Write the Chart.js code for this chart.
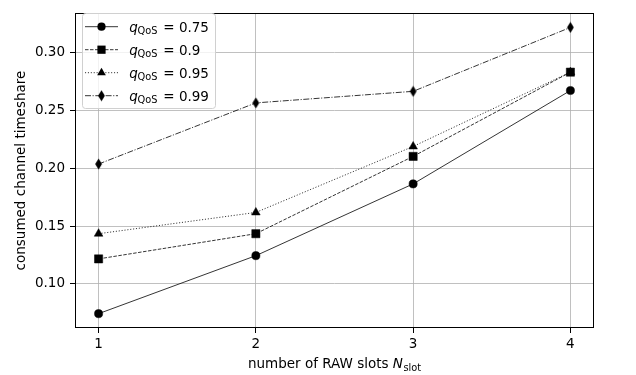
<!DOCTYPE html>
<html><head><meta charset="utf-8">
<script src="https://cdn.jsdelivr.net/npm/chart.js@4"></script>
<style>html,body{margin:0;padding:0;background:#fff}</style>
</head><body>
<canvas id="c" width="636" height="375"></canvas>
<script>
const slots = [1, 2, 3, 4];
const q075 = [0.0742, 0.1244, 0.1865, 0.2673];
const q090 = [0.1216, 0.1434, 0.2103, 0.2832];
const q095 = [0.1434, 0.1618, 0.2189, 0.2832];
const q099 = [0.2037, 0.2566, 0.2666, 0.3219];
const seriesLabels = ['0.75', '0.9', '0.95', '0.99'];
const xTicks = [1, 2, 3, 4];
const yTicks = [0.10, 0.15, 0.20, 0.25, 0.30];
const xTitle = 'number of RAW slots ';
const xTitleVar = 'N';
const xTitleSub = 'slot';
const yTitle = 'consumed channel timeshare';

const FONT = "'DejaVu Sans', sans-serif";

function diamondCanvas() {
  const c = document.createElement('canvas');
  c.width = 9; c.height = 12;
  const g = c.getContext('2d');
  g.fillStyle = '#000';
  g.beginPath();
  g.moveTo(4.5, 0.6); g.lineTo(7.9, 6); g.lineTo(4.5, 11.4); g.lineTo(1.1, 6);
  g.closePath(); g.fill();
  return c;
}
const diamond = diamondCanvas();

const styles = [
  {dash: [], point: 'circle', r: 4.1},
  {dash: [3.5, 1.5], point: 'rect', r: 5.8},
  {dash: [1.1, 1.8], point: 'triangle', r: 5.0},
  {dash: [6, 1.6, 1.1, 1.6], point: diamond, r: 6}
];
const seriesValues = [q075, q090, q095, q099];

const datasets = seriesValues.map((vals, i) => ({
  label: seriesLabels[i],
  data: slots.map((s, j) => ({x: s, y: vals[j]})),
  borderColor: '#000',
  borderWidth: 0.8,
  borderDash: styles[i].dash,
  pointStyle: styles[i].point,
  pointRadius: styles[i].r,
  pointBackgroundColor: '#000',
  pointBorderColor: '#000',
  pointBorderWidth: 0.5,
  tension: 0,
  fill: false
}));

function drawMarker(ctx, st, x, y) {
  ctx.save();
  ctx.fillStyle = '#000';
  ctx.setLineDash([]);
  if (st.point === 'circle') {
    ctx.beginPath(); ctx.arc(x, y, st.r, 0, Math.PI * 2); ctx.fill();
  } else if (st.point === 'rect') {
    const s = st.r * Math.SQRT1_2;
    ctx.fillRect(x - s, y - s, 2 * s, 2 * s);
  } else if (st.point === 'triangle') {
    const r = st.r;
    ctx.beginPath();
    ctx.moveTo(x, y - r);
    ctx.lineTo(x + r * Math.cos(Math.PI / 6), y + r / 2);
    ctx.lineTo(x - r * Math.cos(Math.PI / 6), y + r / 2);
    ctx.closePath(); ctx.fill();
  } else {
    ctx.drawImage(st.point, x - 4.5, y - 6);
  }
  ctx.restore();
}

const decor = {
  id: 'decor',
  afterDatasetsDraw(chart) {
    const ctx = chart.ctx;
    const a = chart.chartArea;
    ctx.save();
    // frame
    ctx.strokeStyle = '#000';
    ctx.lineWidth = 1;
    ctx.setLineDash([]);
    ctx.strokeRect(Math.round(a.left) + 0.5, Math.round(a.top) + 0.5,
                   Math.round(a.right - a.left) - 1, Math.round(a.bottom - a.top) - 1);

    // legend
    const bx = 82.5, by = 13.5, bw = 133, bh = 95, rr = 3;
    ctx.beginPath();
    ctx.moveTo(bx + rr, by);
    ctx.lineTo(bx + bw - rr, by); ctx.quadraticCurveTo(bx + bw, by, bx + bw, by + rr);
    ctx.lineTo(bx + bw, by + bh - rr); ctx.quadraticCurveTo(bx + bw, by + bh, bx + bw - rr, by + bh);
    ctx.lineTo(bx + rr, by + bh); ctx.quadraticCurveTo(bx, by + bh, bx, by + bh - rr);
    ctx.lineTo(bx, by + rr); ctx.quadraticCurveTo(bx, by, bx + rr, by);
    ctx.closePath();
    ctx.fillStyle = 'rgba(255,255,255,0.8)';
    ctx.fill();
    ctx.strokeStyle = '#d0d0d0';
    ctx.stroke();

    seriesLabels.forEach((lab, i) => {
      const y = 26.7 + i * 23;
      const st = styles[i];
      ctx.strokeStyle = '#000';
      ctx.lineWidth = 0.8;
      ctx.setLineDash(st.dash);
      ctx.beginPath(); ctx.moveTo(85, y); ctx.lineTo(118, y); ctx.stroke();
      ctx.setLineDash([]);
      drawMarker(ctx, st, 101.5, y);
      ctx.fillStyle = '#000';
      ctx.textBaseline = 'alphabetic';
      ctx.textAlign = 'left';
      const base = y + 5;
      ctx.font = 'italic 13.5px ' + FONT;
      ctx.fillText('q', 129.3, base);
      ctx.font = '9.8px ' + FONT;
      ctx.fillText('QoS', 137.5, base + 2);
      ctx.font = '13.5px ' + FONT;
      ctx.fillText('= ' + lab, 163.3, base);
    });

    // x title
    ctx.fillStyle = '#000';
    ctx.textBaseline = 'alphabetic';
    ctx.textAlign = 'left';
    ctx.font = '13.5px ' + FONT;
    const w1 = ctx.measureText(xTitle).width;
    ctx.font = 'italic 13.5px ' + FONT;
    const w2 = ctx.measureText(xTitleVar).width;
    ctx.font = '9.8px ' + FONT;
    const w3 = ctx.measureText(xTitleSub).width;
    const total = w1 + w2 + w3 + 0.5;
    const cx = (a.left + a.right) / 2;
    let x0 = cx - total / 2;
    const tb = 368;
    ctx.font = '13.5px ' + FONT;
    ctx.fillText(xTitle, x0, tb);
    ctx.font = 'italic 13.5px ' + FONT;
    ctx.fillText(xTitleVar, x0 + w1, tb);
    ctx.font = '9.8px ' + FONT;
    ctx.fillText(xTitleSub, x0 + w1 + w2 + 0.5, tb + 2.5);

    // y title
    ctx.save();
    ctx.translate(21, (a.top + a.bottom) / 2);
    ctx.rotate(-Math.PI / 2);
    ctx.textAlign = 'center';
    ctx.textBaseline = 'middle';
    ctx.font = '13.5px ' + FONT;
    ctx.fillText(yTitle, 0, 0);
    ctx.restore();

    ctx.restore();
  }
};

new Chart(document.getElementById('c'), {
  type: 'line',
  data: {datasets},
  options: {
    responsive: false,
    animation: false,
    devicePixelRatio: 1,
    layout: {padding: {left: 0, right: 42, top: 7, bottom: 0}},
    plugins: {legend: {display: false}, tooltip: {enabled: false}},
    scales: {
      x: {
        type: 'linear',
        min: 0.85, max: 4.15,
        afterFit(s) { s.height = 47; },
        afterBuildTicks(s) { s.ticks = xTicks.map(v => ({value: v})); },
        ticks: {color: '#000', font: {family: FONT, size: 13.5}, padding: 3,
                callback: v => String(v), maxRotation: 0, autoSkip: false},
        grid: {color: '#b0b0b0', lineWidth: 0.8, tickColor: '#000', tickLength: 5, tickWidth: 1},
        border: {display: false}
      },
      y: {
        type: 'linear',
        min: 0.0618, max: 0.3343,
        afterFit(s) { s.width = 75; },
        afterBuildTicks(s) { s.ticks = yTicks.map(v => ({value: v})); },
        ticks: {color: '#000', font: {family: FONT, size: 13.5}, padding: 5,
                callback: v => v.toFixed(2), autoSkip: false},
        grid: {color: '#b0b0b0', lineWidth: 0.8, tickColor: '#000', tickLength: 5, tickWidth: 1},
        border: {display: false}
      }
    }
  },
  plugins: [decor]
});
</script>
</body></html>
